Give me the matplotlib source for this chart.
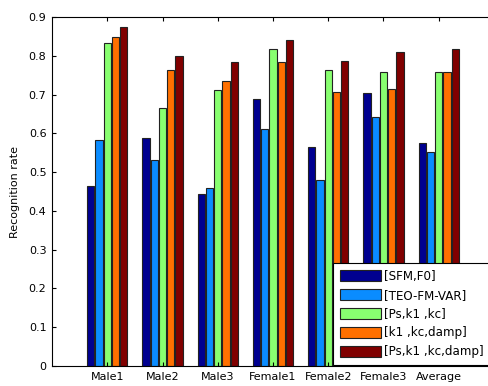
import numpy as np
import matplotlib
matplotlib.use('Agg')
import matplotlib.pyplot as plt

# --- data ---
speakers = ['Male1', 'Male2', 'Male3', 'Female1', 'Female2', 'Female3', 'Average']
feature_sets = ['[SFM,F0]', '[TEO-FM-VAR]', '[Ps,k1 ,kc]', '[k1 ,kc,damp]', '[Ps,k1 ,kc,damp]']

sfm_f0 = [0.464, 0.587, 0.443, 0.688, 0.566, 0.703, 0.574]
teo_fm_var = [0.584, 0.532, 0.458, 0.611, 0.480, 0.643, 0.551]
ps_k1_kc = [0.832, 0.666, 0.712, 0.817, 0.763, 0.759, 0.759]
k1_kc_damp = [0.848, 0.763, 0.736, 0.783, 0.706, 0.714, 0.759]
ps_k1_kc_damp = [0.874, 0.800, 0.783, 0.840, 0.787, 0.809, 0.817]

series = [sfm_f0, teo_fm_var, ps_k1_kc, k1_kc_damp, ps_k1_kc_damp]
colors = ['#000090', '#0a8cff', '#88ff70', '#ff7000', '#800000']

plt.rcParams['font.family'] = ['DejaVu Sans']

fig = plt.figure(figsize=(4.88, 3.86), dpi=100)
# the right edge of the box sits just outside the picture, like the original
ax = fig.add_axes([52 / 488, 20 / 386, 442 / 488, 349 / 386])

x = np.arange(1, len(speakers) + 1)
step = 0.15
for i, (vals, c) in enumerate(zip(series, colors)):
    ax.bar(x + (i - 2) * step, vals, width=0.13, color=c,
           edgecolor='#222222', linewidth=0.8, label=feature_sets[i])

ax.set_xlim(0, 8)
ax.set_ylim(0, 0.9)
ax.set_xticks(x)
ax.set_xticklabels(speakers)
ax.set_yticks(np.arange(0, 0.91, 0.1))
ax.set_yticklabels(['0'] + ['%.1f' % v for v in np.arange(0.1, 0.91, 0.1)])
ax.tick_params(direction='in', top=True, length=3, labelsize=8, pad=4)
ax.set_ylabel('Recognition rate', fontsize=8, labelpad=6)
for s in ax.spines.values():
    s.set_linewidth(0.8)

leg = ax.legend(loc='upper left', bbox_to_anchor=(333 / 488, 1 - 263 / 386),
                bbox_transform=fig.transFigure, borderaxespad=0,
                fontsize=8.6, handlelength=3.5, handleheight=1.0,
                labelspacing=0.5, handletextpad=0.2, borderpad=0.55,
                fancybox=False, framealpha=1)
leg.get_frame().set_edgecolor('black')
leg.get_frame().set_linewidth(0.8)

fig.savefig('out.png', dpi=100)
